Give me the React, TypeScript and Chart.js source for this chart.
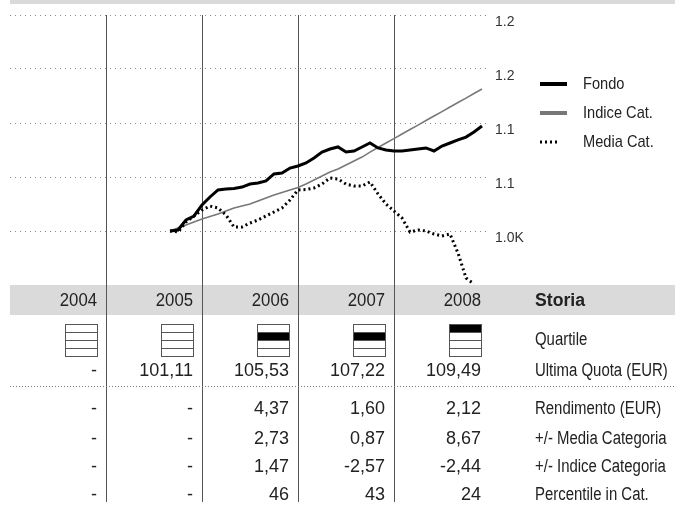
import React, { useEffect, useRef } from 'react';
import { Chart, registerables } from 'chart.js';

Chart.register(...registerables);

// ---------- data ----------
const MONTHS: string[] = [
  '2005-09', '2005-10', '2005-11', '2005-12',
  '2006-01', '2006-02', '2006-03', '2006-04', '2006-05', '2006-06',
  '2006-07', '2006-08', '2006-09', '2006-10', '2006-11', '2006-12',
  '2007-01', '2007-02', '2007-03', '2007-04', '2007-05', '2007-06',
  '2007-07', '2007-08', '2007-09', '2007-10', '2007-11', '2007-12',
  '2008-01', '2008-02', '2008-03', '2008-04', '2008-05', '2008-06',
  '2008-07', '2008-08', '2008-09', '2008-10', '2008-11', '2008-12',
];

const FONDO: number[] = [
  1000.0, 1000.9, 1010.2, 1013.9, 1024.1, 1031.5, 1038.0, 1038.9, 1039.4, 1040.7,
  1043.5, 1044.4, 1046.3, 1052.8, 1053.7, 1058.3, 1060.2, 1063.0, 1067.6, 1073.1,
  1075.9, 1077.8, 1073.1, 1074.1, 1077.8, 1081.5, 1076.9, 1075.0, 1074.1, 1074.1,
  1075.0, 1075.9, 1076.9, 1074.1, 1078.7, 1081.5, 1084.3, 1087.0, 1091.7, 1097.2,
];

const INDICE: number[] = [
  1000.0, 1002.8, 1005.6, 1008.3, 1011.1, 1013.4, 1015.7, 1018.5, 1021.3, 1023.1,
  1025.0, 1027.8, 1030.6, 1033.3, 1035.6, 1038.0, 1040.3, 1043.5, 1047.2, 1050.9,
  1054.6, 1057.4, 1061.1, 1064.8, 1068.5, 1073.1, 1077.3, 1081.5, 1085.6, 1089.8,
  1094.0, 1098.1, 1102.3, 1106.5, 1110.6, 1114.8, 1119.0, 1123.1, 1127.3, 1131.5,
];

const MEDIA: number[] = [
  1000.0, 999.1, 1008.3, 1013.9, 1019.4, 1023.1, 1021.3, 1014.8, 1003.7, 1003.7,
  1007.4, 1010.2, 1013.9, 1017.6, 1021.3, 1028.7, 1038.0, 1038.4, 1039.8, 1043.5,
  1049.1, 1048.1, 1043.5, 1041.7, 1041.7, 1045.4, 1034.3, 1025.0, 1018.5, 1012.0,
  999.1, 1000.9, 1000.0, 997.2, 995.4, 997.2, 979.6, 956.5, 950.9,
];

const SERIES_NAMES = ['Fondo', 'Indice Cat.', 'Media Cat.'];

const Y_TICK_VALUES: number[] = [1000, 1050, 1100, 1150, 1200];
const Y_TICK_LABELS: string[] = ['1.0K', '1.1', '1.1', '1.2', '1.2'];

const YEARS: number[] = [2004, 2005, 2006, 2007, 2008];
const QUARTILES: number[] = [0, 0, 2, 2, 1];
const ULTIMA_QUOTA: string[] = ['-', '101,11', '105,53', '107,22', '109,49'];
const RENDIMENTO: string[] = ['-', '-', '4,37', '1,60', '2,12'];
const VS_MEDIA: string[] = ['-', '-', '2,73', '0,87', '8,67'];
const VS_INDICE: string[] = ['-', '-', '1,47', '-2,57', '-2,44'];
const PERCENTILE: string[] = ['-', '-', '46', '43', '24'];

const HEADER_LABEL = 'Storia';
const ROW_LABELS: string[] = [
  'Quartile',
  'Ultima Quota (EUR)',
  'Rendimento (EUR)',
  '+/- Media Categoria',
  '+/- Indice Categoria',
  'Percentile in Cat.',
];

// ---------- helpers ----------
const FONT = "'Liberation Sans', Arial, sans-serif";
const TEXT = '#222222';
const BAND = '#dadada';

function monthToYear(m: string): number {
  const [y, mo] = m.split('-').map(Number);
  return y + (mo - 1) / 12;
}

function points(values: number[]) {
  return values.map((v, i) => ({ x: monthToYear(MONTHS[i]), y: v }));
}

function drawText(
  ctx: CanvasRenderingContext2D,
  text: string,
  x: number,
  y: number,
  align: CanvasTextAlign,
  font: string,
  sx: number,
) {
  ctx.save();
  ctx.translate(x, y);
  ctx.scale(sx, 1);
  ctx.font = font;
  ctx.textAlign = align;
  ctx.textBaseline = 'middle';
  ctx.fillStyle = TEXT;
  ctx.fillText(text, 0, 0);
  ctx.restore();
}

const tablePlugin = {
  id: 'msTable',
  beforeDraw(chart: any) {
    const ctx = chart.ctx as CanvasRenderingContext2D;
    const area = chart.chartArea;
    ctx.save();
    ctx.fillStyle = BAND;
    ctx.fillRect(10, 0, 665, 4);
    ctx.fillRect(10, area.bottom, 665, 30);
    ctx.restore();
  },
  beforeDatasetsDraw(chart: any) {
    const ctx = chart.ctx as CanvasRenderingContext2D;
    const xs = chart.scales.x;
    const area = chart.chartArea;
    ctx.save();
    ctx.strokeStyle = '#555555';
    ctx.lineWidth = 1;
    for (let i = 1; i < YEARS.length; i++) {
      const px = Math.round(xs.getPixelForValue(YEARS[i])) + 0.5;
      ctx.beginPath();
      ctx.moveTo(px, area.top);
      ctx.lineTo(px, 502);
      ctx.stroke();
    }
    ctx.restore();
  },
  afterDraw(chart: any) {
    const ctx = chart.ctx as CanvasRenderingContext2D;
    const xs = chart.scales.x;
    const area = chart.chartArea;
    const labelX = 535;
    const LABEL_FONT = `18px ${FONT}`;
    const LABEL_SX = 0.83;
    const NUM_FONT = `18px ${FONT}`;
    ctx.save();

    // legend
    const ds = chart.data.datasets;
    ds.forEach((d: any, i: number) => {
      const y = 84 + i * 29;
      ctx.save();
      ctx.strokeStyle = d.borderColor;
      ctx.lineWidth = i === 2 ? 3 : 4;
      if (i === 2) ctx.setLineDash([2, 3]);
      ctx.beginPath();
      ctx.moveTo(540, y);
      ctx.lineTo(i === 2 ? 559 : 567, y);
      ctx.stroke();
      ctx.restore();
      drawText(ctx, d.label, 583, y, 'left', `17px ${FONT}`, 0.86);
    });

    const colRight = (i: number) => Math.round(xs.getPixelForValue(YEARS[i] + 1)) - 9;
    const headerY = area.bottom + 16;

    YEARS.forEach((yr, i) => drawText(ctx, String(yr), colRight(i), headerY, 'right', NUM_FONT, 0.93));
    drawText(ctx, HEADER_LABEL, labelX, headerY, 'left', `bold 18px ${FONT}`, 0.98);

    // quartile boxes
    const boxTop = 324.5;
    const rowH = 8;
    const boxW = 32;
    QUARTILES.forEach((q, i) => {
      const right = colRight(i) + 0.5;
      const left = right - boxW;
      if (q > 0) {
        ctx.fillStyle = '#000000';
        ctx.fillRect(left, boxTop + (q - 1) * rowH, boxW, rowH);
      }
      ctx.strokeStyle = '#555555';
      ctx.lineWidth = 1;
      ctx.strokeRect(left, boxTop, boxW, rowH * 4);
      for (let r = 1; r < 4; r++) {
        ctx.beginPath();
        ctx.moveTo(left, boxTop + r * rowH);
        ctx.lineTo(right, boxTop + r * rowH);
        ctx.stroke();
      }
    });

    drawText(ctx, ROW_LABELS[0], labelX, 340, 'left', LABEL_FONT, LABEL_SX);

    const rows = [ULTIMA_QUOTA, RENDIMENTO, VS_MEDIA, VS_INDICE, PERCENTILE];
    const rowYs = [371, 409, 439, 467, 495];
    rows.forEach((row, r) => {
      row.forEach((val, i) => drawText(ctx, val, colRight(i), rowYs[r], 'right', NUM_FONT, 1.0));
      drawText(ctx, ROW_LABELS[r + 1], labelX, rowYs[r], 'left', LABEL_FONT, LABEL_SX);
    });

    // dotted separator
    ctx.strokeStyle = '#777777';
    ctx.lineWidth = 1;
    ctx.setLineDash([1, 2]);
    ctx.beginPath();
    ctx.moveTo(10, 386.5);
    ctx.lineTo(675, 386.5);
    ctx.stroke();
    ctx.restore();
  },
};

export default function App() {
  const ref = useRef<HTMLCanvasElement>(null);

  useEffect(() => {
    if (!ref.current) return;
    const chart = new Chart(ref.current, {
      type: 'line',
      data: {
        datasets: [
          {
            label: SERIES_NAMES[0],
            data: points(FONDO),
            borderColor: '#000000',
            borderWidth: 3,
            pointRadius: 0,
            tension: 0,
            order: 1,
          },
          {
            label: SERIES_NAMES[1],
            data: points(INDICE),
            borderColor: '#777777',
            borderWidth: 1.5,
            pointRadius: 0,
            tension: 0,
            order: 3,
          },
          {
            label: SERIES_NAMES[2],
            data: points(MEDIA),
            borderColor: '#000000',
            borderWidth: 3,
            borderDash: [2, 3],
            pointRadius: 0,
            tension: 0,
            order: 2,
          },
        ],
      },
      options: {
        responsive: false,
        animation: false,
        events: [],
        layout: { padding: { left: 10, top: 15, right: 0, bottom: 220 } },
        plugins: {
          legend: { display: false },
          tooltip: { enabled: false },
        },
        scales: {
          x: {
            type: 'linear',
            min: 2004,
            max: 2009,
            display: false,
          },
          y: {
            position: 'right',
            min: 950,
            max: 1200,
            afterFit: (s: any) => {
              s.width = 190;
            },
            afterBuildTicks: (s: any) => {
              s.ticks = Y_TICK_VALUES.map((v) => ({ value: v }));
            },
            grid: {
              color: '#8a8a8a',
              lineWidth: 1,
              drawTicks: false,
            },
            border: { display: false, dash: [1, 4] },
            ticks: {
              padding: 5,
              labelOffset: 7,
              color: '#333333',
              font: { family: FONT, size: 14 },
              callback: (v: any) => {
                const idx = Y_TICK_VALUES.indexOf(Number(v));
                return idx >= 0 ? Y_TICK_LABELS[idx] : '';
              },
            },
          },
        },
      },
      plugins: [tablePlugin],
    });
    return () => chart.destroy();
  }, []);

  return (
    <div style={{ position: 'absolute', left: 0, top: 0, width: 680, height: 505, background: '#ffffff' }}>
      <canvas ref={ref} width={680} height={505} />
    </div>
  );
}
